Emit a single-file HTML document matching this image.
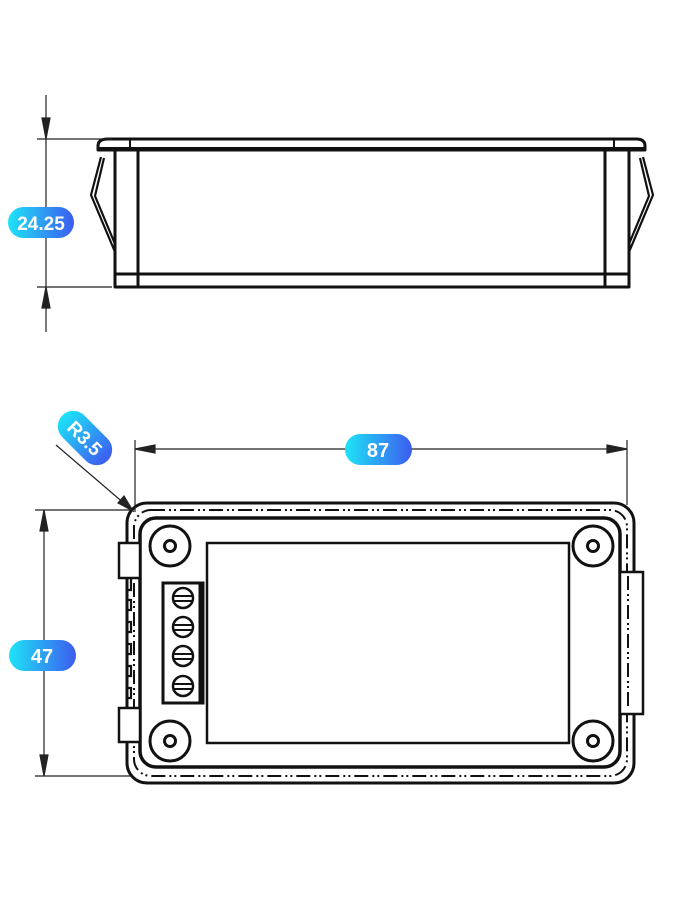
<!DOCTYPE html>
<html><head><meta charset="utf-8"><style>
html,body{margin:0;padding:0;background:#fff;}
svg{display:block;}
text{font-family:"Liberation Sans",sans-serif;font-weight:bold;fill:#fff;}
</style></head><body>
<svg width="675" height="900" viewBox="0 0 675 900" xmlns="http://www.w3.org/2000/svg">
<defs>
<linearGradient id="g" x1="0" x2="1" y1="0" y2="0">
<stop offset="0" stop-color="#1de4f6"/><stop offset="1" stop-color="#3d5cf0"/>
</linearGradient>
</defs>
<g fill="none" stroke="#111" stroke-width="3" stroke-linejoin="round">
<!-- TOP VIEW -->
<path d="M108 139 H636 Q645 139 645 146 V150 H98 V146 Q98 139 108 139 Z"/>
<line x1="98" y1="149" x2="645" y2="149" stroke-width="4"/>
<line x1="130" y1="139" x2="130" y2="150" stroke-width="2"/>
<line x1="614" y1="139" x2="614" y2="150" stroke-width="2"/>
<path d="M115 150 V287 H629 V150"/>
<line x1="138" y1="150" x2="138" y2="287"/>
<line x1="605" y1="150" x2="605" y2="287"/>
<line x1="115" y1="274" x2="629" y2="274"/>
<path d="M101 157 L91 195 L115 252 M104 158 L95 196 L115 244" stroke-width="2.2"/>
<path d="M643 157 L653 195 L629 252 M640 158 L649 196 L629 244" stroke-width="2.2"/>
</g>
<g stroke="#222" stroke-width="1.2" fill="#222">
<line x1="37" y1="139" x2="112" y2="139"/>
<line x1="37" y1="287" x2="112" y2="287"/>
<line x1="46" y1="95" x2="46" y2="332"/>
<path d="M46 139 L42 118 L50 118 Z"/>
<path d="M46 287 L42 308 L50 308 Z"/>
</g>
<rect x="8" y="207" width="66" height="31" rx="15.5" fill="url(#g)"/>
<text x="41" y="230" font-size="19" text-anchor="middle">24.25</text>

<!-- BOTTOM VIEW -->
<g fill="none" stroke="#111" stroke-width="3">
<rect x="127" y="503" width="507" height="280" rx="20"/>
<rect x="140" y="518" width="480" height="249" rx="16" stroke-width="3.5"/>
<rect x="134" y="510" width="493" height="266" rx="17" stroke-width="2" stroke-dasharray="14 4 2 3 2 4"/>
<rect x="207" y="543" width="362" height="200" stroke-width="2.5"/>
<g fill="#fff">
<circle cx="170" cy="546" r="20"/><circle cx="593" cy="546" r="20"/>
<circle cx="170" cy="741" r="20"/><circle cx="593" cy="741" r="20"/>
</g>
<circle cx="170" cy="546" r="5.5"/><circle cx="593" cy="546" r="5.5"/>
<circle cx="170" cy="741" r="5.5"/><circle cx="593" cy="741" r="5.5"/>
<rect x="163" y="583" width="40" height="120" fill="#fff"/>
<line x1="201" y1="583" x2="201" y2="703" stroke-width="5"/>
<g stroke-width="2.5">
<circle cx="183" cy="598" r="10"/><circle cx="183" cy="627" r="10"/>
<circle cx="183" cy="656" r="10"/><circle cx="183" cy="686" r="10"/>
</g>
<g stroke-width="2">
<path d="M174 596 H192 M174 601 H192 M174 625 H192 M174 630 H192 M174 654 H192 M174 659 H192 M174 684 H192 M174 689 H192"/>
</g>
<rect x="119" y="543" width="21" height="35" fill="#fff" stroke-width="2.5"/>
<rect x="119" y="708" width="21" height="34" fill="#fff" stroke-width="2.5"/>
<path d="M131 578 V590 H127 V600 H131 V610 H127 V622 H131 V632 H127 V644 H131 V654 H127 V666 H131 V676 H127 V688 H131 V698 H127 V708" stroke-width="2.2"/>
<rect x="620" y="572" width="23" height="142" fill="#fff" stroke-width="2.5"/>
<line x1="628" y1="576" x2="628" y2="710" stroke-width="2" stroke-dasharray="14 4 2 3 2 4"/>
</g>
<g stroke="#222" stroke-width="1.2" fill="#222">
<line x1="135" y1="440" x2="135" y2="512"/>
<line x1="627" y1="440" x2="627" y2="505"/>
<line x1="135" y1="449" x2="627" y2="449"/>
<path d="M135 449 L155 445 L155 453 Z"/>
<path d="M627 449 L607 445 L607 453 Z"/>
<line x1="35" y1="510" x2="132" y2="510"/>
<line x1="35" y1="776" x2="132" y2="776"/>
<line x1="44" y1="510" x2="44" y2="776"/>
<path d="M44 510 L40 531 L48 531 Z"/>
<path d="M44 776 L40 755 L48 755 Z"/>
<line x1="56" y1="445" x2="133" y2="511"/>
<path d="M133 511 L118 503 L124 496 Z"/>
</g>
<rect x="345" y="434" width="67" height="31" rx="15.5" fill="url(#g)"/>
<text x="378" y="457" font-size="20" text-anchor="middle">87</text>
<rect x="9" y="640" width="67" height="31" rx="15.5" fill="url(#g)"/>
<text x="42" y="663" font-size="20" text-anchor="middle">47</text>
<g transform="translate(85,438) rotate(45)">
<rect x="-32" y="-15.5" width="64" height="31" rx="15.5" fill="url(#g)"/>
<text x="0" y="7" font-size="19" text-anchor="middle">R3.5</text>
</g>
</svg>
</body></html>
